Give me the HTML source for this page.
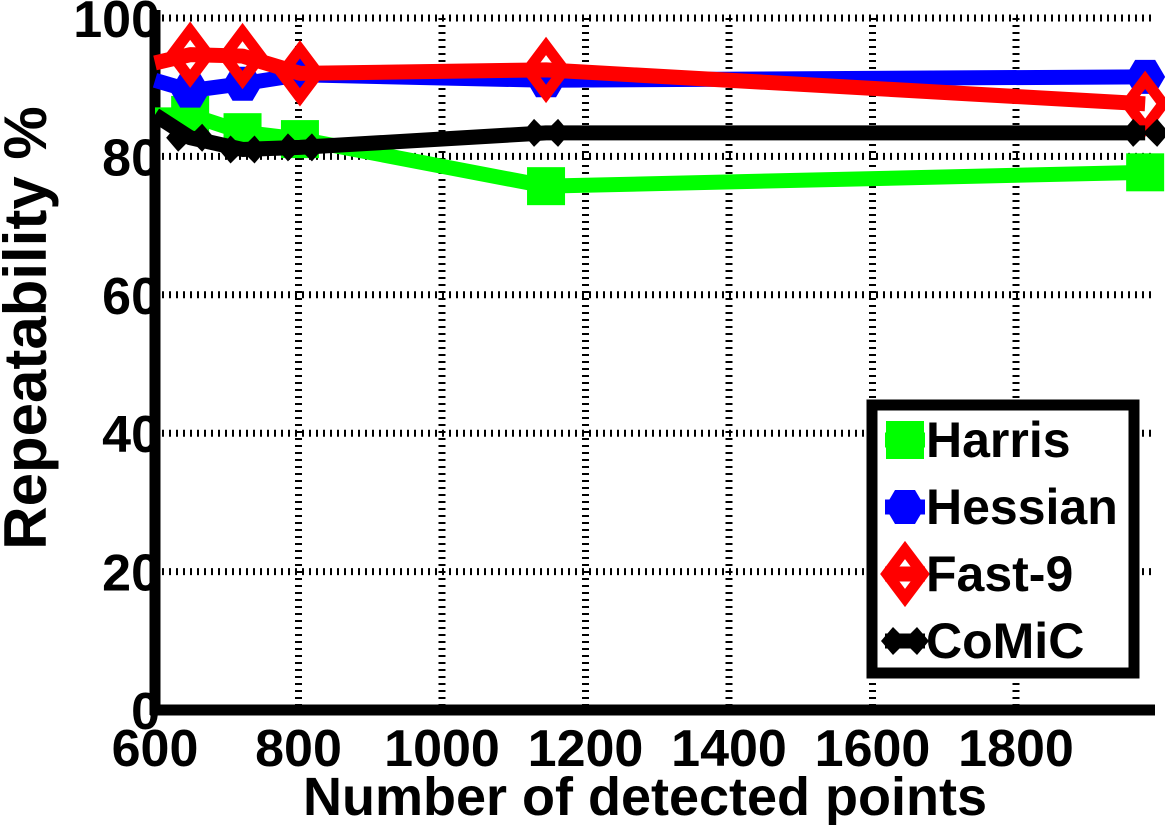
<!DOCTYPE html>
<html><head><meta charset="utf-8"><style>
html,body{margin:0;padding:0;background:#fff;}
svg{display:block;font-family:"Liberation Sans",Arial,sans-serif;font-weight:bold;}
</style></head><body>
<svg id="chart" width="1165" height="825" viewBox="0 0 1165 825"></svg>
<script>
const xTicks=[600,800,1000,1200,1400,1600,1800];
const yTicks=[0,20,40,60,80,100];
const xVals=[600,649,722,802,1145,1980];
const harris=[86,86,83.5,82.5,75.7,77.7];
const hessian=[91,89.5,90.5,91.8,91,91.5];
const fast9=[93.5,94.7,94.5,92,92.5,87.6];
const comic=[86,82.7,81,81.3,83.4,83.4];
const seriesNames=["Harris","Hessian","Fast-9","CoMiC"];

const NS="http://www.w3.org/2000/svg";
const svg=document.getElementById('chart');
const X=v=>155+(v-600)*(143.5/200);
const Y=v=>710-v*6.92;
function el(t,a,p){const e=document.createElementNS(NS,t);for(const k in a)e.setAttribute(k,a[k]);(p||svg).appendChild(e);return e;}

xTicks.forEach(t=>{if(t===600)return;const g=el('line',{x1:X(t),x2:X(t),y1:Y(100),y2:710,stroke:'#000','stroke-width':7,'stroke-dasharray':'2,5'});

});
yTicks.forEach(t=>{if(t===0)return;const g=el('line',{x1:155,x2:1155,y1:Y(t),y2:Y(t),stroke:'#000','stroke-width':7,'stroke-dasharray':'2,5'});

});
const ax=el('line',{x1:155,x2:155,y1:10,y2:715,stroke:'#000','stroke-width':11});


const bx=el('line',{x1:150,x2:1155,y1:710,y2:710,stroke:'#000','stroke-width':11});


xTicks.forEach(t=>{const tx=el('text',{x:X(t),y:766,'text-anchor':'middle','font-size':52});tx.textContent=t;

});
yTicks.forEach(t=>{const tx=el('text',{x:160,y:Y(t)+19,'text-anchor':'end','font-size':52});tx.textContent=t;

});
const xt=el('text',{x:645,y:815,'text-anchor':'middle','font-size':54});xt.textContent='Number of detected points';


const yt=el('text',{x:0,y:0,'text-anchor':'middle','font-size':60,transform:'translate(46,328) rotate(-90)'});yt.textContent='Repeatability %';



function marker(kind,cx,cy,color,g){
  if(kind==='square'){return el('rect',{x:cx-19,y:cy-19,width:38,height:38,fill:color},g);}
  if(kind==='hex'){return el('polygon',{points:`${cx-20},${cy} ${cx-10},${cy-17} ${cx+10},${cy-17} ${cx+20},${cy} ${cx+10},${cy+17} ${cx-10},${cy+17}`,fill:color},g);}
  if(kind==='diamond'){return el('polygon',{points:`${cx},${cy-24} ${cx+18},${cy} ${cx},${cy+24} ${cx-18},${cy}`,fill:'none',stroke:color,'stroke-width':11},g);}
  return el('polygon',{points:`${cx-24},${cy} ${cx-12},${cy-14} ${cx},${cy-2} ${cx+12},${cy-14} ${cx+24},${cy} ${cx+12},${cy+14} ${cx},${cy+2} ${cx-12},${cy+14}`,fill:color},g);
}
const series=[[harris,'#00ff00','square'],[hessian,'#0000ff','hex'],[fast9,'#ff0000','diamond'],[comic,'#000','bowtie']];
series.forEach((s,i)=>{
  const g=el('g',{});
  
  
  const pts=xVals.map((x,j)=>X(x)+','+Y(s[0][j])).join(' ');
  const pl=el('polyline',{points:pts,fill:'none',stroke:s[1],'stroke-width':15,'stroke-linejoin':'round'},g);
  
  
  xVals.forEach((x,j)=>{if(j===0)return;const m=marker(s[2],X(x),Y(s[0][j]),s[1],g);
    
    });
});
const lg=el('g',{});


el('rect',{x:872,y:405,width:262,height:268,fill:'#fff',stroke:'#000','stroke-width':11},lg);
series.forEach((s,i)=>{
  const cy=440+i*67;
  const e=el('g',{},lg);
  
  
  el('line',{x1:885,x2:925,y1:cy,y2:cy,stroke:s[1],'stroke-width':15},e);
  marker(s[2],905,cy,s[1],e);
  const t=el('text',{x:926,y:cy+17,'font-size':50},e);t.textContent=seriesNames[i];
});
</script>
</body></html>
